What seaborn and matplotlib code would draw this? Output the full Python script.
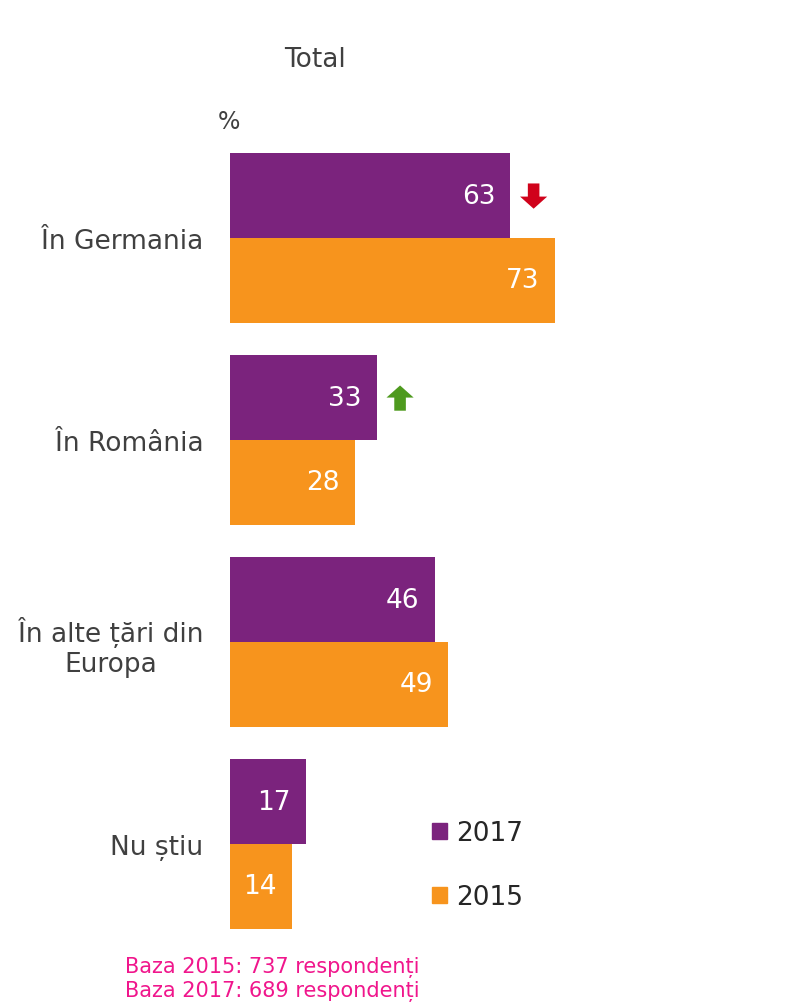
import pandas as pd
import matplotlib
matplotlib.use('Agg')
import matplotlib.pyplot as plt
import matplotlib.patches as mpatches
import seaborn as sns

# Données
categories = ['În Germania', 'În România', 'În alte țări din\nEuropa', 'Nu știu']
years = ['2017', '2015']
values_2017 = [63, 33, 46, 17]
values_2015 = [73, 28, 49, 14]

# flèches de tendance 2017 vs 2015 (catégorie, sens)
trend_cat = ['În Germania', 'În România']
trend_dir = ['down', 'up']

PURPLE = '#7B237D'
ORANGE = '#F7941D'
TEXT = '#404040'

df = pd.DataFrame({
    'categorie': categories * 2,
    'an': ['2017'] * len(categories) + ['2015'] * len(categories),
    'valoare': values_2017 + values_2015,
})

sns.set_theme(style='white')
plt.rcParams['font.family'] = ['DejaVu Sans']

fig = plt.figure(figsize=(7.86, 10.03), dpi=100)
W, H = 786, 1003
ax = fig.add_axes([230 / W, (H - 946) / H, 1 - 230 / W, (946 - 138) / H])

sns.barplot(data=df, y='categorie', x='valoare', hue='an', hue_order=years,
            order=categories, palette=[PURPLE, ORANGE], width=0.84,
            orient='h', saturation=1, legend=False, linewidth=0, edgecolor='none', ax=ax)

ax.set_xlim(0, (W - 230) / 4.452)
ax.set_ylim(3.5, -0.5)
ax.set_xlabel('')
ax.set_ylabel('')
ax.set_xticks([])
sns.despine(ax=ax, left=True, bottom=True)
ax.tick_params(axis='y', length=0, pad=19, labelsize=19, labelcolor=TEXT)
for lbl in ax.get_yticklabels():
    lbl.set_multialignment('center')

# étiquettes de valeur, en blanc au bout des barres
for container in ax.containers:
    for bar in container:
        w = bar.get_width()
        yc = bar.get_y() + bar.get_height() / 2
        ax.annotate(f'{w:.0f}', xy=(w, yc), xytext=(-11, 0), textcoords='offset points',
                    ha='right', va='center', color='white', fontsize=19)

# flèches de tendance
for cat, d in zip(trend_cat, trend_dir):
    i = categories.index(cat)
    bar = ax.containers[0][i]
    xc = bar.get_width() + 5.2
    top = bar.get_y() + 0.15
    bot = bar.get_y() + 0.275
    if d == 'down':
        ax.arrow(xc, top, 0, bot - top, width=2.6, head_width=6.1, head_length=0.06,
                 length_includes_head=True, color='#D0021B', lw=0)
    else:
        ax.arrow(xc, bot, 0, top - bot, width=2.6, head_width=6.1, head_length=0.06,
                 length_includes_head=True, color='#4E9A1E', lw=0)

fig.text(315 / W, 1 - 60 / H, 'Total', ha='center', va='center', fontsize=19, color=TEXT)
fig.text(218 / W, 1 - 122 / H, '%', ha='left', va='center', fontsize=17, color=TEXT)

handles = [mpatches.Patch(color=PURPLE, label='2017'),
           mpatches.Patch(color=ORANGE, label='2015')]
fig.legend(handles=handles, loc='upper left', bbox_to_anchor=(432 / W, 1 - 821 / H),
           frameon=False, fontsize=19, handlelength=0.55, handleheight=0.55,
           handletextpad=0.35, labelspacing=1.45, borderpad=0, borderaxespad=0)

fig.text(125 / W, 1 - 968 / H, 'Baza 2015: 737 respondenți', ha='left', va='center',
         fontsize=15, color='#F0168C')
fig.text(125 / W, 1 - 992 / H, 'Baza 2017: 689 respondenți', ha='left', va='center',
         fontsize=15, color='#F0168C')

fig.savefig('out.png', dpi=100)
